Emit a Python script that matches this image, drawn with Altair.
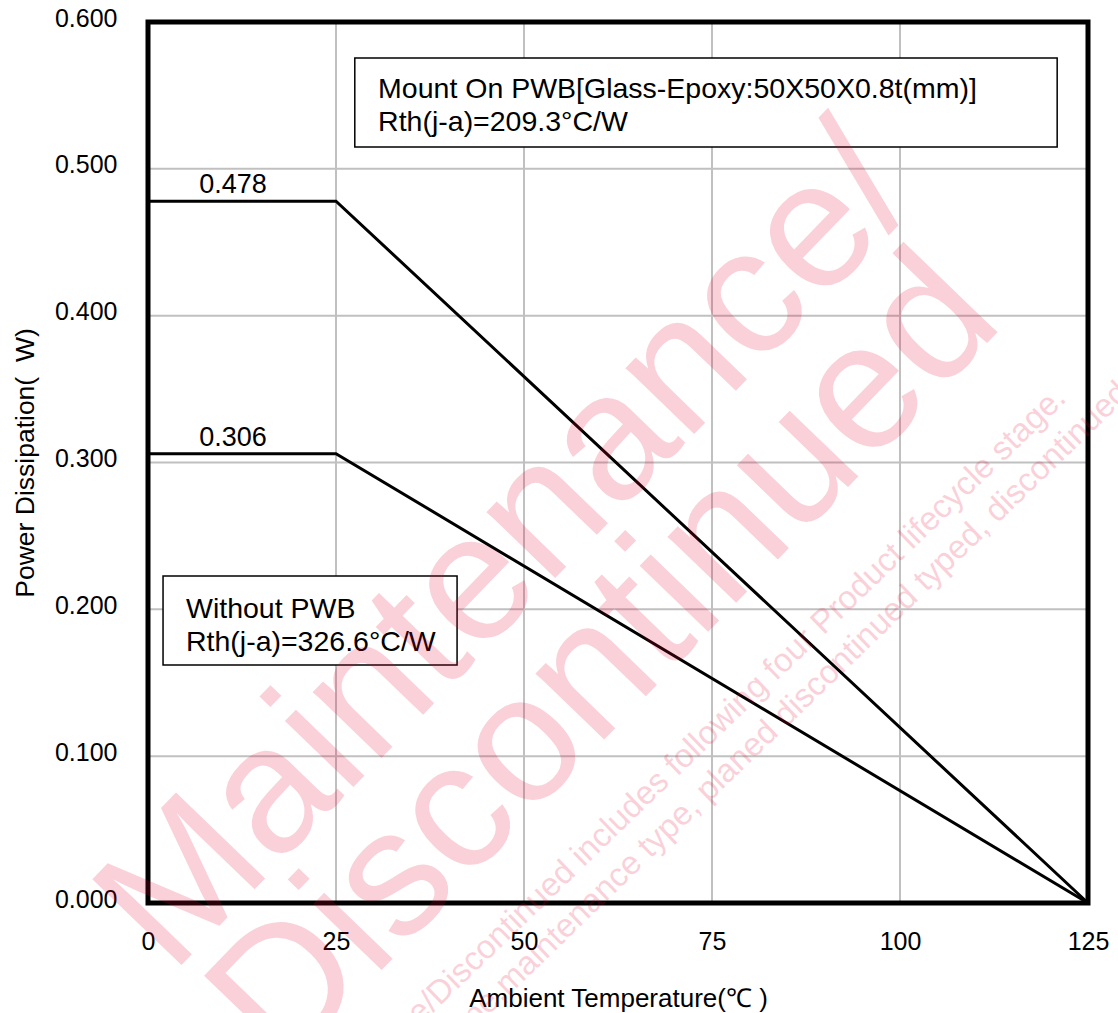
import altair as alt
import pandas as pd

# Derating curves: power dissipation vs ambient temperature
temps = [0, 25, 125]
pwb_watts = [0.478, 0.478, 0.0]
bare_watts = [0.306, 0.306, 0.0]
series_names = ["Mount On PWB", "Without PWB"]

x_ticks = [0, 25, 50, 75, 100, 125]
y_ticks = [0.0, 0.1, 0.2, 0.3, 0.4, 0.5, 0.6]

plateau_values = [0.478, 0.306]
plateau_label_x = 11.3

FONT = "Liberation Sans"
X_DOM = [0, 125]
Y_DOM = [0, 0.6]
NBSP = "\u00a0"


def xs(field, **kw):
    return alt.X(field, type="quantitative", scale=alt.Scale(domain=X_DOM, nice=False, zero=False), **kw)


def ys(field, **kw):
    return alt.Y(field, type="quantitative", scale=alt.Scale(domain=Y_DOM, nice=False, zero=False), **kw)


curves = pd.DataFrame({
    "series": [series_names[0]] * 3 + [series_names[1]] * 3,
    "temp": temps + temps,
    "watts": pwb_watts + bare_watts,
})

# interior grid lines
vgrid = alt.Chart(pd.DataFrame({"t": x_ticks[1:-1]})).mark_rule(
    color="#c0c0c0", strokeWidth=2
).encode(x=xs("t"))
hgrid = alt.Chart(pd.DataFrame({"w": y_ticks[1:-1]})).mark_rule(
    color="#c0c0c0", strokeWidth=2
).encode(y=ys("w"))

# axes (labels and titles only)
axes = alt.Chart(pd.DataFrame({"t": [0], "w": [0]})).mark_point(opacity=0).encode(
    x=xs("t", axis=alt.Axis(
        values=x_ticks, grid=False, ticks=False, tickSize=0, domain=False,
        labelFlush=False,
        labelFont=FONT, labelFontSize=25, labelColor="black", labelPadding=26,
        title="Ambient Temperature(\u2103" + NBSP + ")", titleFont=FONT, titleFontSize=26,
        titleFontWeight="normal", titleColor="black", titleY=103,
        titleBaseline="alphabetic",
    )),
    y=ys("w", axis=alt.Axis(
        values=y_ticks, format=".3f", grid=False, ticks=False, tickSize=0, domain=False,
        labelFlush=False,
        labelFont=FONT, labelFontSize=25, labelColor="black", labelPadding=31,
        labelOffset=-4,
        title="Power Dissipation(" + NBSP * 2 + "W)", titleFont=FONT, titleFontSize=26.5,
        titleFontWeight="normal", titleColor="black", titleX=-115,
        titleBaseline="alphabetic", titleAngle=270,
    )),
)

lines = alt.Chart(curves).mark_line(color="black", strokeWidth=3).encode(
    x=xs("temp"), y=ys("watts"), detail="series:N"
)

plateau = alt.Chart(pd.DataFrame({"t": [plateau_label_x] * 2, "w": plateau_values})).mark_text(
    font=FONT, fontSize=27, color="black", dy=-8, baseline="alphabetic", align="center"
).encode(x=xs("t"), y=ys("w"), text=alt.Text("w:Q", format=".3f"))

# annotation boxes
boxes = pd.DataFrame({
    "x0": [27.5, 2.0], "x1": [120.9, 41.1],
    "y0": [0.5755, 0.2227], "y1": [0.5149, 0.1621],
})
box_rects = alt.Chart(boxes).mark_rect(fill="white", stroke="black", strokeWidth=1.5).encode(
    x=xs("x0"), x2="x1", y=ys("y0"), y2="y1"
)
box_text = pd.DataFrame({
    "t": [30.6, 30.6, 5.05, 5.05],
    "w": [0.5482, 0.5258, 0.1941, 0.1716],
    "label": [
        "Mount On PWB[Glass-Epoxy:50X50X0.8t(mm)]",
        "Rth(j-a)=209.3\u00b0C/W",
        "Without PWB",
        "Rth(j-a)=326.6\u00b0C/W",
    ],
})
box_labels = alt.Chart(box_text).mark_text(
    font=FONT, fontSize=28.5, color="black", align="left", baseline="alphabetic"
).encode(x=xs("t"), y=ys("w"), text="label:N")

# plot frame
frame = alt.Chart(pd.DataFrame({"x0": [0], "x1": [125], "y0": [0], "y1": [0.6]})).mark_rect(
    filled=False, stroke="black", strokeWidth=5
).encode(x=xs("x0"), x2="x1", y=ys("y0"), y2="y1")

# lifecycle stamp
stamp_big = pd.DataFrame({
    "t": [53.0, 66.0], "w": [0.2152, 0.1396],
    "label": ["Maintenance/", "Discontinued"],
})
stamp_big_layer = alt.Chart(stamp_big).mark_text(
    font=FONT, fontSize=180, color="#e60033", opacity=0.18, angle=314,
    align="center", baseline="alphabetic"
).encode(x=xs("t"), y=ys("w"), text="label:N")

stamp_small_1 = alt.Chart(pd.DataFrame({
    "t": [122.3], "w": [0.3426],
    "label": ["Maintenance/Discontinued includes following four Product lifecycle stage."],
})).mark_text(
    font=FONT, fontSize=33, color="#e60033", opacity=0.18, angle=316,
    align="right", baseline="alphabetic"
).encode(x=xs("t"), y=ys("w"), text="label:N")

stamp_small_2 = alt.Chart(pd.DataFrame({
    "t": [138.4], "w": [0.3841],
    "label": ["type,maintenance type, planed discontinued typed, discontinued type."],
})).mark_text(
    font=FONT, fontSize=33, color="#e60033", opacity=0.18, angle=316,
    align="right", baseline="alphabetic"
).encode(x=xs("t"), y=ys("w"), text="label:N")

chart = alt.layer(
    vgrid, hgrid, axes, lines, plateau, box_rects, box_labels, frame,
    stamp_big_layer, stamp_small_1, stamp_small_2,
).properties(
    width=940, height=881,
    autosize=alt.AutoSizeParams(type="none"),
    padding={"left": 148, "top": 22, "right": 30, "bottom": 110},
    background="white",
).configure_view(stroke=None)

chart.save("out.html", embed_options={"renderer": "svg", "actions": False})
